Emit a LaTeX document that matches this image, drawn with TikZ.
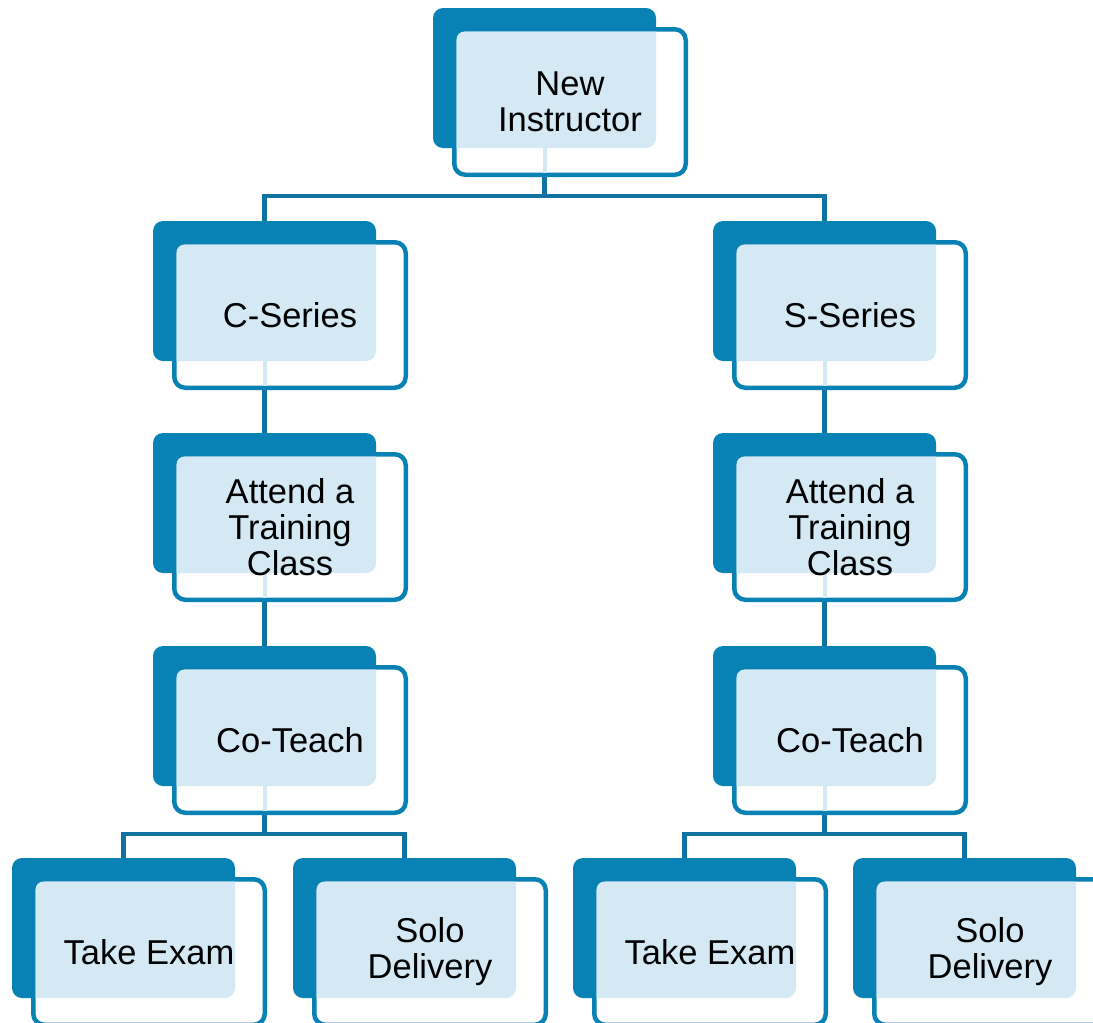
\documentclass[tikz,border=0pt]{standalone}
\usepackage{fontspec}
\setmainfont{Liberation Sans}
\definecolor{boxblue}{RGB}{8,129,181}
\definecolor{linkblue}{RGB}{16,114,160}
\definecolor{patblue}{RGB}{212,233,244}
\tikzset{
  backbox/.style={fill=boxblue, rounded corners=10pt, minimum width=223pt, minimum height=140pt, inner sep=0pt, draw=none},
  frontbox/.style={fill=white, draw=boxblue, line width=4.5pt, rounded corners=11pt, minimum width=231.5pt, minimum height=145.5pt, inner sep=0pt},
  boxtext/.style={align=center, font=\fontsize{34.5}{36}\selectfont, inner sep=0pt, text=black},
  conn/.style={draw=linkblue, line width=4.5pt},
  patfill/.style={fill=patblue},
}
% #5 = 1 draws the light stub below the pattern (boxes with children)
\newcommand\orgbox[5]{%
  \node[backbox] (#1-b) at (#2+111.5,#3+70) {};
  \node[frontbox] (#1) at (#2+137,#3+94) {};
  \begin{scope}
    \clip[rounded corners=10pt] (#2,#3) rectangle ++(223,140);
    \fill[patfill, rounded corners=8pt] (#2+23.5,#3+23.5) rectangle ++(300,300);
  \end{scope}
  \ifnum#5=1
    \fill[patfill] (#2+109.5,#3+139) rectangle (#2+113.5,#3+164.5);
  \fi
  \node[boxtext] (#1-t) at (#1.center) {#4};
}
\begin{document}
\begin{tikzpicture}[x=1pt,y=-1pt]
\useasboundingbox (0,0) rectangle (1093,1023);
\fill[white] (0,0) rectangle (1093,1023);
\clip (0,0) rectangle (1093,1023);
\orgbox{ni}{433}{8}{New\\Instructor}{1}
\orgbox{cs}{153}{221}{C-Series}{1}
\orgbox{ss}{713}{221}{S-Series}{1}
\orgbox{ca}{153}{433}{Attend a\\Training\\Class}{1}
\orgbox{sa}{713}{433}{Attend a\\Training\\Class}{1}
\orgbox{cc}{153}{646}{Co-Teach}{1}
\orgbox{sc}{713}{646}{Co-Teach}{1}
\orgbox{ce}{12}{858}{Take Exam}{0}
\orgbox{cd}{293}{858}{Solo\\Delivery}{0}
\orgbox{se}{573}{858}{Take Exam}{0}
\orgbox{sd}{853}{858}{Solo\\Delivery}{0}
% connectors
\coordinate (j1) at (544.5,196);
\draw[conn] (ni-b.south |- ni.south) -- (j1) -| (cs-b.north);
\draw[conn] (j1) -| (ss-b.north);
\draw[conn] (cs-b.south |- cs.south) -- (ca-b.north);
\draw[conn] (ss-b.south |- ss.south) -- (sa-b.north);
\draw[conn] (ca-b.south |- ca.south) -- (cc-b.north);
\draw[conn] (sa-b.south |- sa.south) -- (sc-b.north);
\coordinate (j2) at (264.5,834);
\coordinate (j3) at (824.5,834);
\draw[conn] (cc-b.south |- cc.south) -- (j2) -| (ce-b.north);
\draw[conn] (j2) -| (cd-b.north);
\draw[conn] (sc-b.south |- sc.south) -- (j3) -| (se-b.north);
\draw[conn] (j3) -| (sd-b.north);
\end{tikzpicture}
\end{document}
